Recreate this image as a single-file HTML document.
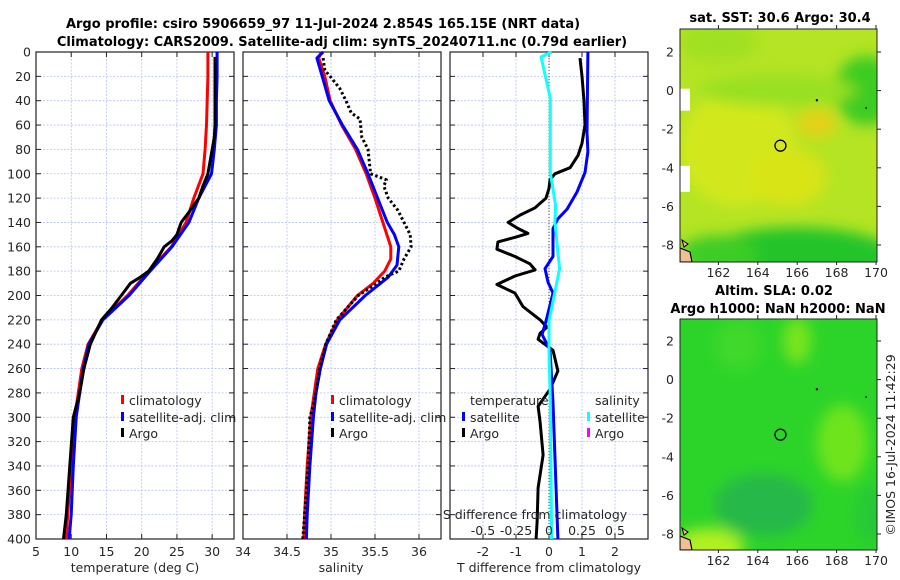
<!DOCTYPE html>
<html><head><meta charset="utf-8">
<style>
html,body{margin:0;padding:0;background:#fff;}
svg{display:block;font-family:"DejaVu Sans","Liberation Sans",sans-serif;}
.t{font-size:12.5px;fill:#262626;}
.b{font-weight:bold;fill:#000;font-size:13px;}
</style></head>
<body>
<svg id="fig" width="900" height="580" viewBox="0 0 900 580">
  <text class="b" x="323" y="28" text-anchor="middle">Argo profile: csiro 5906659_97 11-Jul-2024 2.854S 165.15E (NRT data)</text>
  <text class="b" x="342" y="46" text-anchor="middle">Climatology: CARS2009. Satellite-adj clim: synTS_20240711.nc (0.79d earlier)</text>
  <g id="p1"></g>
  <g id="p2"></g>
  <g id="p3"></g>
  <g id="m1"></g>
  <g id="m2"></g>
  <text class="t" transform="translate(895,445) rotate(-90)" text-anchor="middle">©IMOS 16-Jul-2024 11:42:29</text>
</svg>
<script>
// ---- data ----
const depthTicks = [0,20,40,60,80,100,120,140,160,180,200,220,240,260,280,300,320,340,360,380,400];
const tempTicks = [5,10,15,20,25,30];
const salTicks = [34,34.5,35,35.5,36];
const tdiffTicks = [-2,-1,0,1,2];
const sdiffTicks = [-0.5,-0.25,0,0.25,0.5];
const sdiffTickLabels = ["-0.5","-0.25","0","0.25","0.5"];

const climDepth = [0,20,40,60,80,100,120,140,160,180,200,220,240,260,280,300,340,380,400];
const climTemp  = [29.4,29.4,29.3,29.2,29.0,28.7,27.4,26.3,24.2,21.0,18.0,14.4,12.4,11.5,11.0,10.5,10.0,9.5,9.3];
const satDepth  = [0,20,40,60,80,100,120,140,160,180,200,220,240,260,300,340,380,400];
const satTemp   = [30.7,30.7,30.6,30.6,30.3,29.9,28.1,26.7,24.3,21.2,18.2,14.5,12.5,11.7,10.7,10.3,10.0,9.7];
const argoTDepth = [4,20,40,60,70,100,110,120,130,140,150,155,160,170,180,185,190,200,210,220,240,260,280,300,340,380,400];
const argoTemp   = [30.4,30.4,30.4,30.4,30.3,29.4,28.7,28.1,26.9,25.6,25.0,24.3,23.2,22.2,21.0,19.8,18.4,17.1,15.8,14.3,12.7,11.8,11.2,10.3,9.8,9.3,8.9];

const sDepth    = [0,5,20,40,60,80,100,120,140,160,170,180,190,200,220,240,260,280,300,340,380,400];
const climSal   = [34.89,34.86,34.93,34.99,35.12,35.28,35.40,35.50,35.59,35.68,35.68,35.61,35.48,35.30,35.07,34.94,34.85,34.81,34.77,34.73,34.70,34.69];
const sat2Depth = [0,5,20,40,60,80,100,120,140,150,160,175,185,200,220,240,260,280,300,340,380,400];
const satSal    = [34.91,34.84,34.90,34.98,35.13,35.30,35.42,35.53,35.64,35.72,35.77,35.75,35.65,35.39,35.10,34.95,34.88,34.83,34.80,34.76,34.73,34.72];
const argoSDepth = [5,15,20,30,40,50,55,70,80,100,105,110,120,130,140,150,160,170,180,185,190,200,220,240,260,280,290,300,340,380,400];
const argoSal    = [34.91,34.93,34.99,35.10,35.17,35.23,35.33,35.35,35.42,35.45,35.63,35.60,35.65,35.76,35.83,35.90,35.91,35.83,35.77,35.61,35.52,35.31,35.06,34.94,34.87,34.83,34.80,34.76,34.74,34.70,34.68];

const dTDepth = [5,20,40,60,75,85,95,100,105,112,120,128,134,140,145,149,152,156,162,168,174,179,184,191,198,209,220,226,231,236,245,262,277,291,304,331,358,386,400];
const argoTDiff = [0.94,1.0,1.06,1.09,1.0,0.88,0.64,0.18,0.03,0,-0.09,-0.42,-0.88,-1.24,-0.94,-0.64,-1.0,-1.55,-1.58,-1.03,-0.58,-0.42,-1.03,-1.58,-1.03,-0.79,-0.27,-0.06,-0.27,-0.33,0.12,0.27,0.03,-0.33,-0.27,-0.18,-0.33,-0.36,-0.39];
const sTDepth = [0,66,82,99,115,129,137,145,168,178,189,198,221,232,245,288,400];
const satTDiff = [1.18,1.15,1.18,1.09,0.85,0.55,0.27,0.12,0.12,-0.12,-0.03,0.12,-0.09,-0.21,0.03,0.12,0.27];
const sSDepth = [0,4,38,99,126,140,178,221,245,286,400];
const satSDiff = [0.02,-0.06,0.01,0.01,0.05,0.045,0.08,0,0,0.01,0.02];

// ---- helpers ----
const NS="http://www.w3.org/2000/svg";
function mk(parent,tag,attrs){const e=document.createElementNS(NS,tag);for(const k in attrs)e.setAttribute(k,attrs[k]);parent.appendChild(e);return e;}
const top_=52, bot=539;
const yD = d => top_ + d*(bot-top_)/400;

function panel(g,x0,x1,xmin,xmax,xticks,xlabels,showDepth,name){
  const X=v=>x0+(v-xmin)*(x1-x0)/(xmax-xmin);
  depthTicks.forEach(d=>{
    const l=mk(g,'line',{x1:x0,x2:x1,y1:yD(d),y2:yD(d),stroke:'#b8c4ec','stroke-width':0.8,'stroke-dasharray':'2,1.5'});
    
    
    mk(g,'line',{x1:x0,x2:x0+5,y1:yD(d),y2:yD(d),stroke:'#222','stroke-width':1});
    mk(g,'line',{x1:x1-5,x2:x1,y1:yD(d),y2:yD(d),stroke:'#222','stroke-width':1});
    if(showDepth){const t=mk(g,'text',{x:x0-5,y:yD(d)+4.5,'text-anchor':'end',class:'t'});t.textContent=d;
      
      }
  });
  xticks.forEach((v,i)=>{
    mk(g,'line',{x1:X(v),x2:X(v),y1:top_,y2:bot,stroke:'#b8c4ec','stroke-width':0.8,'stroke-dasharray':'2,1.5'});
    mk(g,'line',{x1:X(v),x2:X(v),y1:bot,y2:bot-5,stroke:'#222'});
    mk(g,'line',{x1:X(v),x2:X(v),y1:top_,y2:top_+5,stroke:'#222'});
    if(xlabels){const t=mk(g,'text',{x:X(v),y:bot+17,'text-anchor':'middle',class:'t'});t.textContent=xlabels[i];
      
      }
  });
  const r=mk(g,'rect',{x:x0,y:top_,width:x1-x0,height:bot-top_,fill:'none',stroke:'#222','stroke-width':1.2});
  
  
  return X;
}
function line(g,X,vals,depths,color,w,dash,name){
  const pts=vals.map((v,i)=>X(v).toFixed(1)+','+yD(depths[i]).toFixed(1)).join(' ');
  const p=mk(g,'polyline',{points:pts,fill:'none',stroke:color,'stroke-width':w,'stroke-linejoin':'round'});
  if(dash)p.setAttribute('stroke-dasharray',dash);
  
  
}
function legend(g,x,y,color,label,name){
  const r=mk(g,'rect',{x:x,y:y-10,width:3,height:9,fill:color});
  
  
  const t=mk(g,'text',{x:x+8,y:y,class:'t'});t.textContent=label;
  
  
}

// panel 1
const p1=document.getElementById('p1');
const X1=panel(p1,36,234,5,33.1,tempTicks,tempTicks.map(String),true,'temp');
line(p1,X1,climTemp,climDepth,'#f00',3,null,'temp-climatology-line');
line(p1,X1,satTemp,satDepth,'#00f',3,null,'temp-satellite-line');
line(p1,X1,argoTemp,argoTDepth,'#000',3,null,'temp-argo-line');
legend(p1,121,405,'#f00','climatology','legend-climatology');
legend(p1,121,422,'#00f','satellite-adj. clim','legend-satellite');
legend(p1,121,438,'#000','Argo','legend-argo');
let t=mk(p1,'text',{x:135,y:572,'text-anchor':'middle',class:'t'});t.textContent='temperature (deg C)';



// panel 2
const p2=document.getElementById('p2');
const X2=panel(p2,243,441,34,36.25,salTicks,salTicks.map(String),false,'sal');
line(p2,X2,climSal,sDepth,'#f00',3,null,'sal-climatology-line');
line(p2,X2,satSal,sat2Depth,'#00f',3,null,'sal-satellite-line');
line(p2,X2,argoSal,argoSDepth,'#000',3,'2.5,2.5','sal-argo-line');
legend(p2,331,405,'#f00','climatology','legend-sal-climatology');
legend(p2,331,422,'#00f','satellite-adj. clim','legend-sal-satellite');
legend(p2,331,438,'#000','Argo','legend-sal-argo');
t=mk(p2,'text',{x:341,y:572,'text-anchor':'middle',class:'t'});t.textContent='salinity';



// panel 3
const p3=document.getElementById('p3');
const X3=panel(p3,450,648,-3,3,tdiffTicks,tdiffTicks.map(String),false,'diff');
const XS=v=>X3(v*4);
mk(p3,'line',{x1:X3(0),x2:X3(0),y1:top_,y2:bot,stroke:'#445533','stroke-width':1,'stroke-dasharray':'1,2'});
line(p3,X3,argoTDiff,dTDepth,'#000',3,null,'tdiff-argo-line');
line(p3,X3,satTDiff,sTDepth,'#00f',3,null,'tdiff-satellite-line');
line(p3,XS,satSDiff,sSDepth,'#1ff',3,null,'sdiff-satellite-line');
t=mk(p3,'text',{x:470,y:405,class:'t'});t.textContent='temperature';


t=mk(p3,'text',{x:595,y:405,class:'t'});t.textContent='salinity';


legend(p3,462,422,'#00f','satellite','legend-tdiff-satellite');
legend(p3,462,438,'#000','Argo','legend-tdiff-argo');
legend(p3,587,422,'#1ff','satellite','legend-sdiff-satellite');
legend(p3,587,438,'#f0f','Argo','legend-sdiff-argo');
t=mk(p3,'text',{x:535,y:519,'text-anchor':'middle',class:'t'});t.textContent='S difference from climatology';


sdiffTicks.forEach((v,i)=>{const tt=mk(p3,'text',{x:XS(v),y:535,'text-anchor':'middle',class:'t'});tt.textContent=sdiffTickLabels[i];
  
  });
t=mk(p3,'text',{x:549,y:572,'text-anchor':'middle',class:'t'});t.textContent='T difference from climatology';



// maps
function map(g,y0,y1,blobs,base,titles,name){
  const x0=680,x1=877;
  const LX=v=>679+(v-160)*19.7, LY=v=>(name==='sst'?52:341)+(2-v)*19.3;
  const cid='clip-'+name;
  const cp=mk(g,'clipPath',{id:cid});mk(cp,'rect',{x:x0,y:y0,width:x1-x0,height:y1-y0});
  const f=mk(g,'filter',{id:'bl-'+name,x:'-50%',y:'-50%',width:'200%',height:'200%'});mk(f,'feGaussianBlur',{stdDeviation:7});
  const inner=mk(g,'g',{'clip-path':'url(#'+cid+')'});
  const bg=mk(inner,'rect',{x:x0,y:y0,width:x1-x0,height:y1-y0,fill:base});
  
  
  const bgG=mk(inner,'g',{filter:'url(#bl-'+name+')'});
  blobs.forEach(b=>mk(bgG,'ellipse',{cx:LX(b[0]),cy:LY(b[1]),rx:b[2]*19.7,ry:b[3]*19.3,fill:b[4]}));
  if(name==='sst'){
    mk(inner,'rect',{x:680,y:LY(0.1),width:10,height:22,fill:'#fff'});
    mk(inner,'rect',{x:680,y:LY(-3.9),width:10,height:26,fill:'#fff'});
  }
  mk(inner,'path',{d:`M680 ${y1-14} L690 ${y1-10} L692 ${y1} L680 ${y1} Z`,fill:'#f0c090',stroke:'#000','stroke-width':1.2});
  mk(inner,'path',{d:`M682 ${y1-22} L688 ${y1-18} L684 ${y1-15} Z`,fill:'#f0c090',stroke:'#000','stroke-width':1});
  mk(inner,'circle',{cx:LX(167),cy:LY(-0.5),r:1.2,fill:'#000'});
  mk(inner,'circle',{cx:LX(169.5),cy:LY(-0.9),r:0.8,fill:'#000'});
  const c=mk(g,'circle',{cx:LX(165.15),cy:LY(-2.854),r:5.5,fill:'none',stroke:'#000','stroke-width':1.3});
  
  
  mk(g,'rect',{x:x0,y:y0,width:x1-x0,height:y1-y0,fill:'none',stroke:'#222','stroke-width':1});
  [2,0,-2,-4,-6,-8].forEach(v=>{
    mk(g,'line',{x1:x1,x2:x1+4,y1:LY(v),y2:LY(v),stroke:'#222'});
    const tt=mk(g,'text',{x:x0-6,y:LY(v)+4.5,'text-anchor':'end',class:'t'});tt.textContent=v;
    
    
  });
  [162,164,166,168,170].forEach(v=>{
    mk(g,'line',{x1:LX(v),x2:LX(v),y1:y0,y2:y0-4,stroke:'#222'});
    mk(g,'line',{x1:LX(v),x2:LX(v),y1:y1,y2:y1+3,stroke:'#222'});
    const tt=mk(g,'text',{x:LX(v),y:y1+15,'text-anchor':'middle',class:'t'});tt.textContent=v;
    
    
  });
  titles.forEach(tl=>{const tt=mk(g,'text',{x:tl[1],y:tl[2],'text-anchor':'middle',class:'b'});tt.textContent=tl[0];
    
    });
}
map(document.getElementById('m1'),29,262,[
  [163,-3,3,3,'#d2e81c'],[165.5,-4.5,2,1.5,'#d8e418'],[167,-1.7,1,0.7,'#e6d018'],
  [169.5,0,1.6,1.8,'#3ccc24'],[165,0,4,0.8,'#98e024'],[166,-8.6,5,1.5,'#22c42a'],[162,-8.5,2,1,'#3ccc28'],[162,2.5,2,1,'#a0e024']
],'#b4e424',[['sat. SST: 30.6 Argo: 30.4',780,22]],'sst');
map(document.getElementById('m2'),319,550,[
  [166,2,0.7,1.2,'#7ae41a'],[168.3,-3.3,1.3,2,'#6ee41c'],[164.3,-6.5,2.5,1.6,'#26b848'],[161.5,-8.7,1.8,1,'#b0f020'],
  [163,1.8,1.2,1.3,'#40d82a'],[169.8,-7,0.8,1.5,'#28c838']
],'#2cd42a',[['Altim. SLA: 0.02',774,295],['Argo h1000: NaN h2000: NaN',778,313]],'sla');
</script>
</body></html>
